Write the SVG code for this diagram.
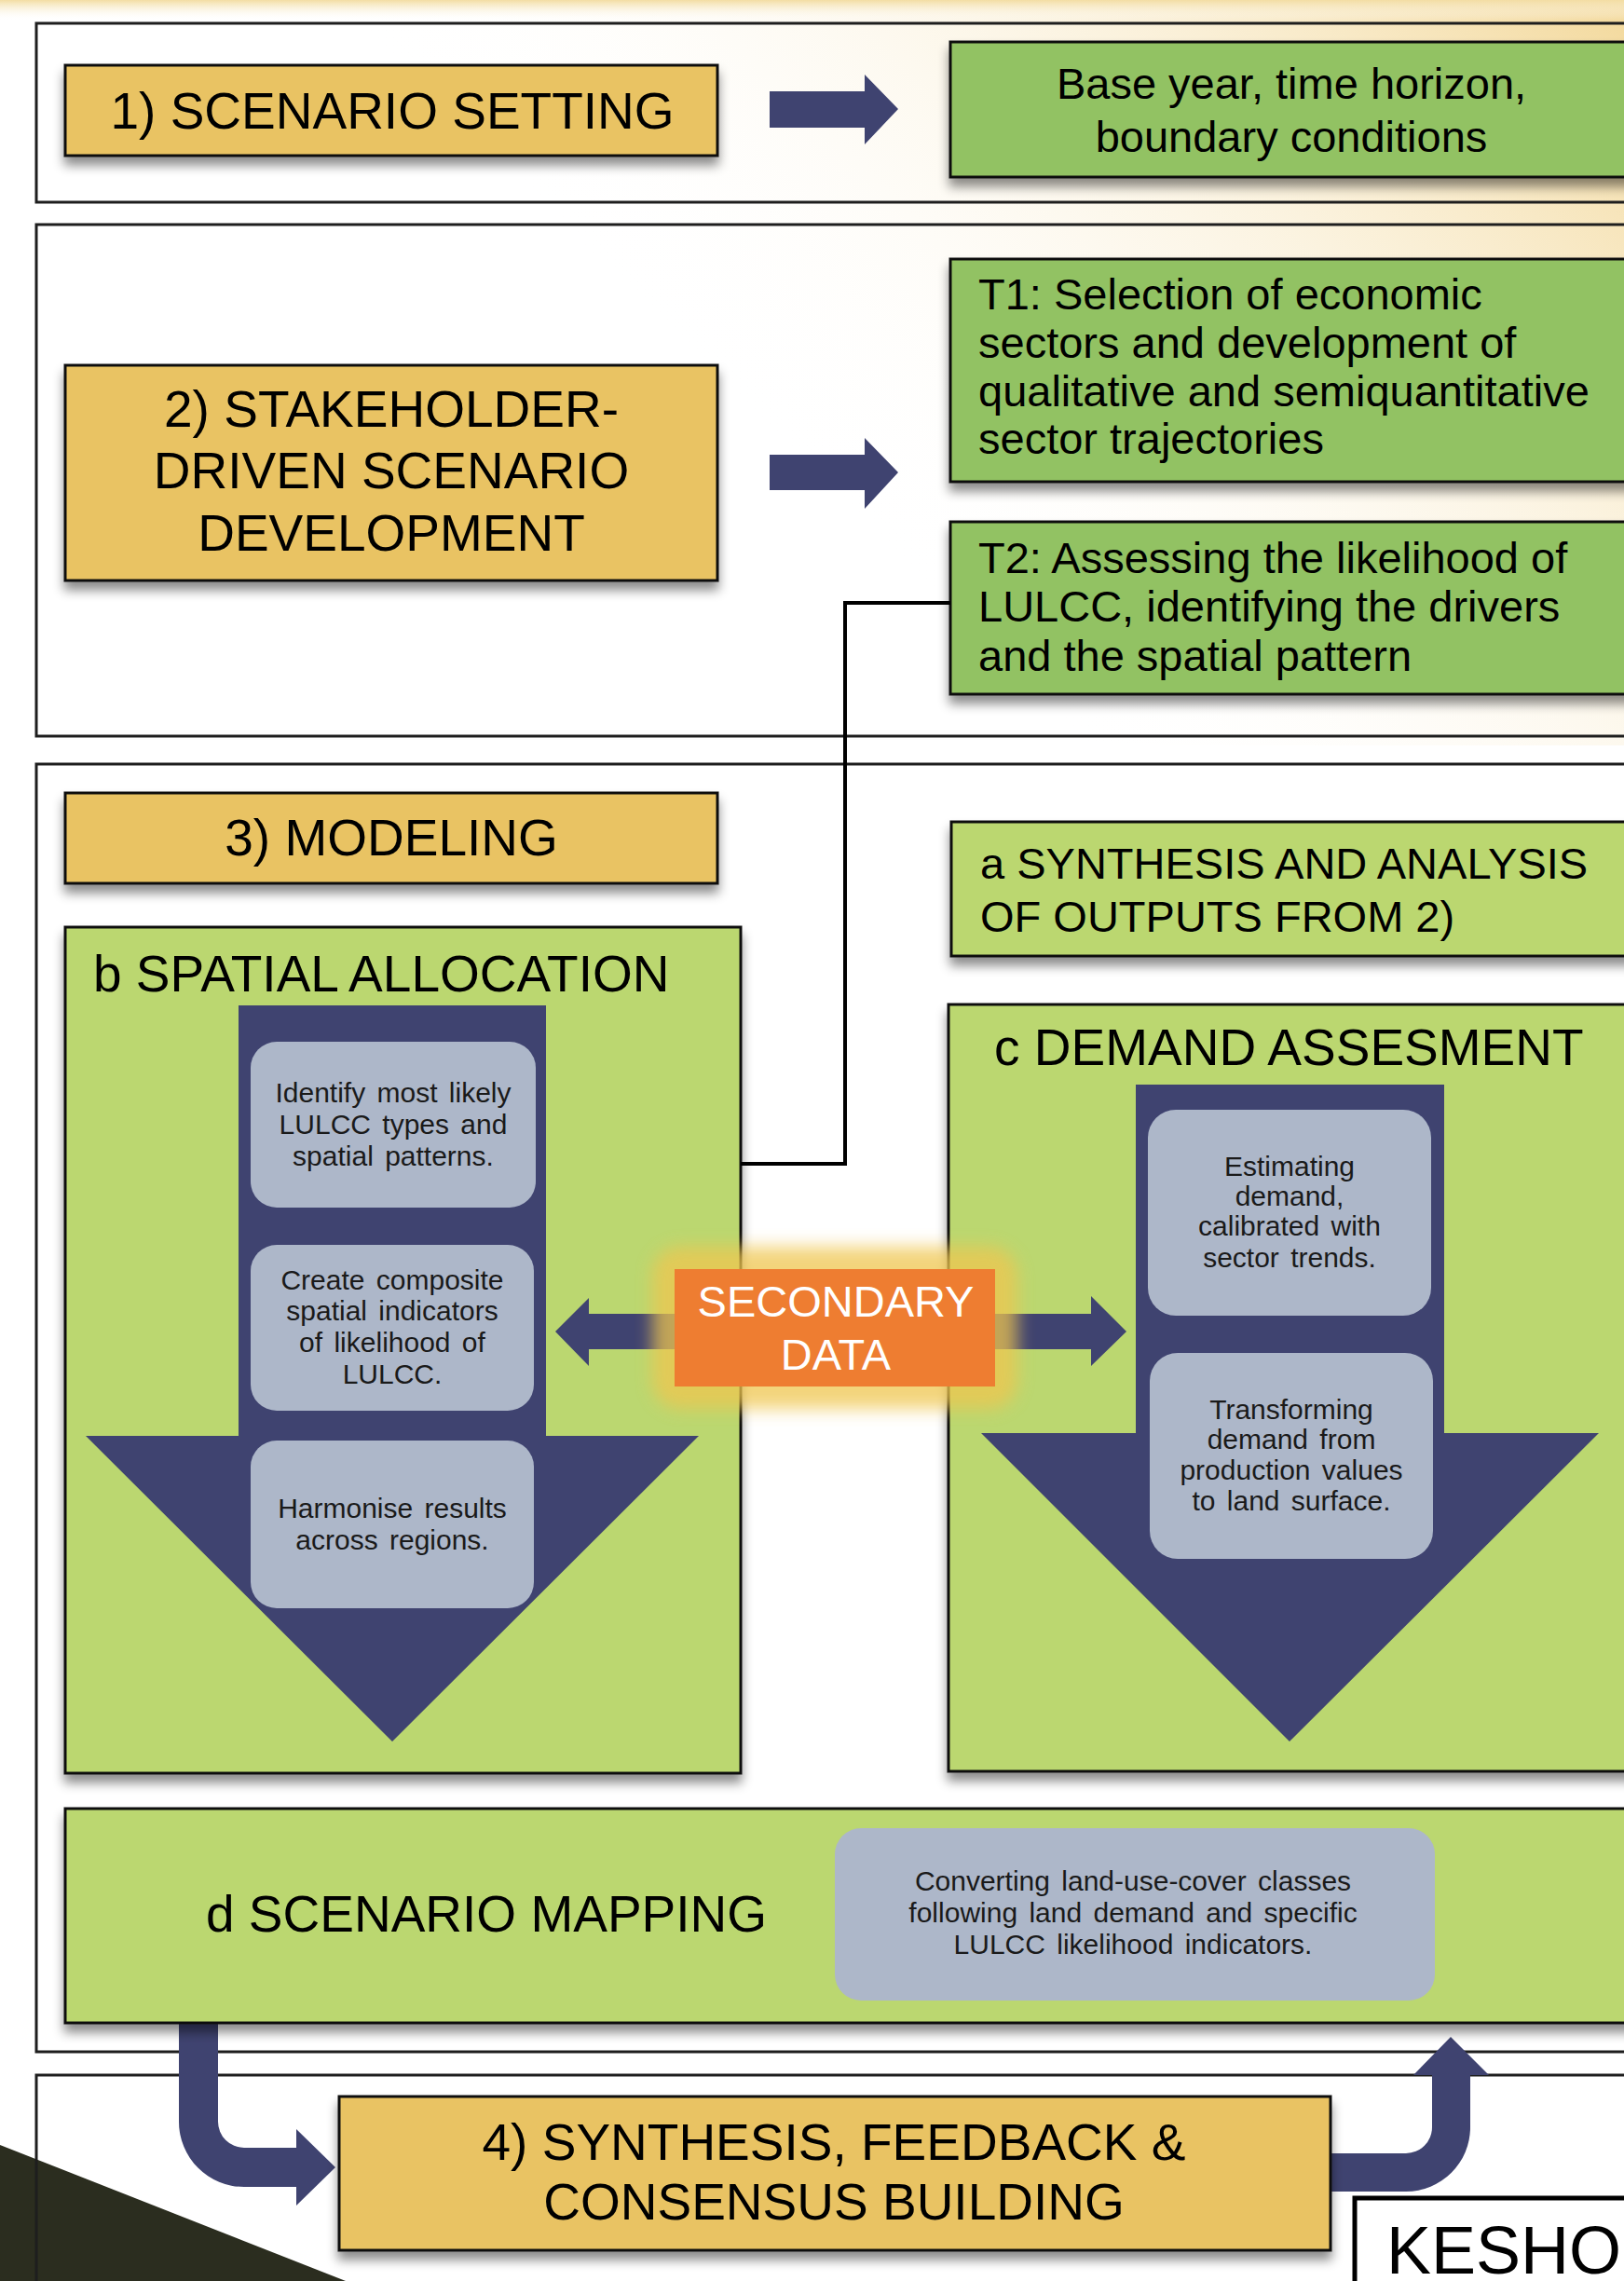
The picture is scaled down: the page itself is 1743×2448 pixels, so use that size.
<svg xmlns="http://www.w3.org/2000/svg" width="1743" height="2448" viewBox="0 0 1743 2448">
<style>
.frame{fill:none;stroke:#1e1e1e;stroke-width:3}
.gold{fill:#E9C363;stroke:#111;stroke-width:3}
.green{fill:#92C263;stroke:#111;stroke-width:3}
.lgreen{fill:#BBD76F;stroke:#111;stroke-width:3}
.navy{fill:#3F4370}
.soft{fill:#ADB7C9}
.big{font-family:"Liberation Sans",Arial,sans-serif;font-size:55px;fill:#000}
.mid{font-family:"Liberation Sans",Arial,sans-serif;font-size:47px;fill:#000}
.small{font-family:"Liberation Sans",Arial,sans-serif;font-size:30px;fill:#1a1a1a;word-spacing:4px}
.ctr{text-anchor:middle}
.line{fill:none;stroke:#000;stroke-width:4}
</style>
<defs>
<filter id="sh" x="-10%" y="-10%" width="120%" height="140%">
<feDropShadow dx="0" dy="9" stdDeviation="6" flood-color="#000" flood-opacity="0.45"/>
</filter>
<filter id="glow" x="-20%" y="-40%" width="140%" height="180%">
<feGaussianBlur stdDeviation="9"/>
</filter>
<linearGradient id="bg" gradientUnits="userSpaceOnUse" x1="1743" y1="0" x2="1050" y2="700">
<stop offset="0" stop-color="#F1D28A" stop-opacity="0.85"/>
<stop offset="0.45" stop-color="#F7E6BE" stop-opacity="0.45"/>
<stop offset="1" stop-color="#FFFFFF" stop-opacity="0"/>
</linearGradient>
<linearGradient id="topband" x1="0" y1="0" x2="0" y2="1">
<stop offset="0" stop-color="#F3DDA3"/>
<stop offset="1" stop-color="#FFFFFF" stop-opacity="0"/>
</linearGradient>
</defs>

<rect x="0" y="0" width="1743" height="2448" fill="#FFFFFF"/>
<rect x="0" y="0" width="1743" height="800" fill="url(#bg)"/>
<rect x="0" y="0" width="1743" height="22" fill="url(#topband)"/>
<polygon points="0,2302 371,2448 0,2448" fill="#2B2D1F"/>

<g id="frames">
<rect class="frame" x="39" y="25" width="1740" height="192"/>
<rect class="frame" x="39" y="241" width="1740" height="549"/>
<rect class="frame" x="39" y="820" width="1740" height="1382"/>
<rect class="frame" x="39" y="2227" width="1740" height="300"/>
</g>

<g id="node-scenario-setting">
<rect class="gold" x="70" y="70" width="700" height="97" filter="url(#sh)"/>
<text class="big ctr" x="421" y="138">1) SCENARIO SETTING</text>
</g>
<g id="node-base-year">
<rect class="green" x="1020" y="45" width="760" height="145" filter="url(#sh)"/>
<text class="mid ctr" x="1386" y="106">Base year, time horizon,</text>
<text class="mid ctr" x="1386" y="163">boundary conditions</text>
</g>
<g id="node-stakeholder">
<rect class="gold" x="70" y="392" width="700" height="231" filter="url(#sh)"/>
<text class="big ctr" x="420" y="458">2) STAKEHOLDER-</text>
<text class="big ctr" x="420" y="524">DRIVEN SCENARIO</text>
<text class="big ctr" x="420" y="591">DEVELOPMENT</text>
</g>
<g id="node-t1">
<rect class="green" x="1020" y="278" width="760" height="239" filter="url(#sh)"/>
<text class="mid" x="1050" y="332">T1: Selection of economic</text>
<text class="mid" x="1050" y="384">sectors and development of</text>
<text class="mid" x="1050" y="436">qualitative and semiquantitative</text>
<text class="mid" x="1050" y="487">sector trajectories</text>
</g>
<g id="node-t2">
<rect class="green" x="1020" y="560" width="760" height="185" filter="url(#sh)"/>
<text class="mid" x="1050" y="615">T2: Assessing the likelihood of</text>
<text class="mid" x="1050" y="667">LULCC, identifying the drivers</text>
<text class="mid" x="1050" y="720">and the spatial pattern</text>
</g>
<g id="node-modeling">
<rect class="gold" x="70" y="851" width="700" height="97" filter="url(#sh)"/>
<text class="big ctr" x="420" y="918">3) MODELING</text>
</g>
<g id="node-a">
<rect class="lgreen" x="1021" y="882" width="760" height="144" filter="url(#sh)"/>
<text class="mid" x="1052" y="943">a SYNTHESIS AND ANALYSIS</text>
<text class="mid" x="1052" y="1000">OF OUTPUTS FROM 2)</text>
</g>
<g id="node-b">
<rect class="lgreen" x="70" y="995" width="725" height="908" filter="url(#sh)"/>
<text class="big" x="100" y="1064">b SPATIAL ALLOCATION</text>
<polygon class="navy" points="256,1079 586,1079 586,1541 750,1541 421,1869 92,1541 256,1541"/>
<rect class="soft" x="269" y="1118" width="306" height="178" rx="28"/>
<text class="small ctr" x="422" y="1183">Identify most likely</text>
<text class="small ctr" x="422" y="1217">LULCC types and</text>
<text class="small ctr" x="422" y="1251">spatial patterns.</text>
<rect class="soft" x="269" y="1336" width="304" height="178" rx="28"/>
<text class="small ctr" x="421" y="1384">Create composite</text>
<text class="small ctr" x="421" y="1417">spatial indicators</text>
<text class="small ctr" x="421" y="1451">of likelihood of</text>
<text class="small ctr" x="421" y="1485">LULCC.</text>
<rect class="soft" x="269" y="1546" width="304" height="180" rx="28"/>
<text class="small ctr" x="421" y="1629">Harmonise results</text>
<text class="small ctr" x="421" y="1663">across regions.</text>
</g>
<g id="node-c">
<rect class="lgreen" x="1018" y="1078" width="760" height="823" filter="url(#sh)"/>
<text class="big" x="1067" y="1143">c DEMAND ASSESMENT</text>
<polygon class="navy" points="1219,1164 1550,1164 1550,1538 1716,1538 1384,1869 1053,1538 1219,1538"/>
<rect class="soft" x="1232" y="1191" width="304" height="221" rx="30"/>
<text class="small ctr" x="1384" y="1262">Estimating</text>
<text class="small ctr" x="1384" y="1294">demand,</text>
<text class="small ctr" x="1384" y="1326">calibrated with</text>
<text class="small ctr" x="1384" y="1360">sector trends.</text>
<rect class="soft" x="1234" y="1452" width="304" height="221" rx="30"/>
<text class="small ctr" x="1386" y="1523">Transforming</text>
<text class="small ctr" x="1386" y="1555">demand from</text>
<text class="small ctr" x="1386" y="1588">production values</text>
<text class="small ctr" x="1386" y="1621">to land surface.</text>
</g>

<g id="connectors">
<polygon class="navy" points="826,98 928,98 928,80 964,117 928,155 928,137 826,137"/>
<polygon class="navy" points="826,488 928,488 928,470 964,507 928,546 928,526 826,526"/>
<polyline class="line" points="1020,647 907,647 907,1249 795,1249"/>
<polygon class="navy" points="730,1410 632,1410 632,1393 596,1429 632,1466 632,1448 730,1448"/>
<polygon class="navy" points="1060,1410 1171,1410 1171,1391 1209,1429 1171,1466 1171,1448 1060,1448"/>
<path class="navy" d="M192,2160 L192,2277 A70,70 0 0 0 262,2347 L318,2347 L318,2367 L360,2326 L318,2285 L318,2305 L262,2305 A28,28 0 0 1 234,2277 L234,2160 Z"/>
<path class="navy" d="M1428,2311 L1509,2311 A28,28 0 0 0 1537,2283 L1537,2227 L1517,2227 L1557,2186 L1598,2227 L1578,2227 L1578,2283 A69,69 0 0 1 1509,2352 L1428,2352 Z"/>
</g>

<g id="node-secondary-data">
<rect x="700" y="1338" width="392" height="174" rx="30" fill="#EFC650" opacity="0.75" filter="url(#glow)"/>
<rect x="724" y="1362" width="344" height="126" fill="#EE7D31"/>
<text class="mid ctr" x="897" y="1413" style="fill:#FFFFFF">SECONDARY</text>
<text class="mid ctr" x="897" y="1470" style="fill:#FFFFFF">DATA</text>
</g>
<g id="node-d">
<rect class="lgreen" x="70" y="1941" width="1710" height="230" filter="url(#sh)"/>
<text class="big ctr" x="522" y="2073">d SCENARIO MAPPING</text>
<rect class="soft" x="896" y="1962" width="644" height="185" rx="28"/>
<text class="small ctr" x="1216" y="2029">Converting land-use-cover classes</text>
<text class="small ctr" x="1216" y="2063">following land demand and specific</text>
<text class="small ctr" x="1216" y="2097">LULCC likelihood indicators.</text>
</g>
<g id="node-synthesis">
<rect class="gold" x="364" y="2250" width="1064" height="165" filter="url(#sh)"/>
<text class="big ctr" x="895" y="2318">4) SYNTHESIS, FEEDBACK &amp;</text>
<text class="big ctr" x="895" y="2382">CONSENSUS BUILDING</text>
</g>
<g id="node-kesho">
<rect x="1454" y="2359" width="320" height="120" fill="#FFFFFF" stroke="#000" stroke-width="5"/>
<text x="1488" y="2440" style="font-family:'Liberation Sans',Arial,sans-serif;font-size:72px;fill:#000">KESHO</text>
</g>
</svg>
